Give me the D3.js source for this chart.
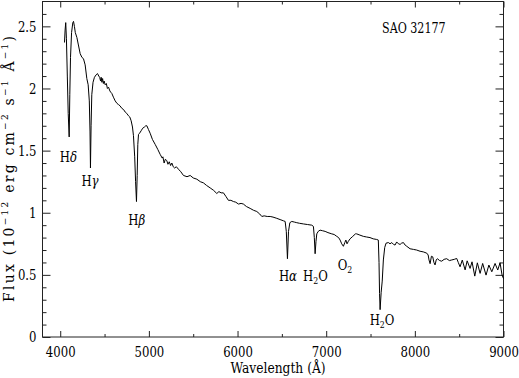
<!DOCTYPE html>
<html>
<head>
<meta charset="utf-8">
<script src="https://cdn.jsdelivr.net/npm/d3@7"></script>
<style>
  html, body { margin: 0; padding: 0; background: #fff; }
  svg { display: block; }
  svg text { font-family: "DejaVu Serif", "Liberation Serif", "Times New Roman", serif; fill: #000; }
</style>
</head>
<body>
<svg id="chart" width="519" height="378"></svg>
<script>
// ---- data ----
const wavelength = [4048,4055,4062,4070,4080,4090,4101,4108,4116,4128,4142,4150,4160,4170,4188,4205,4225,4245,4262,4281,4300,4315,4328,4336,4341,4348,4356,4370,4386,4405,4420,4435,4445,4455,4462,4470,4478,4487,4495,4507,4520,4532,4545,4560,4570,4582,4600,4620,4640,4658,4675,4695,4715,4733,4750,4770,4785,4800,4815,4826,4840,4850,4860,4868,4875,4883,4895,4913,4930,4950,4965,4977,4995,5014,5040,5071,5100,5127,5150,5158,5172,5185,5202,5215,5230,5245,5259,5275,5290,5310,5334,5360,5390,5430,5466,5500,5541,5580,5616,5650,5691,5730,5766,5790,5815,5841,5870,5897,5925,5954,5980,6010,6040,6066,6100,6142,6180,6217,6250,6274,6300,6335,6368,6400,6443,6480,6518,6537,6550,6563,6575,6590,6612,6640,6668,6700,6743,6790,6837,6856,6866,6875,6885,6894,6910,6931,6960,6988,7020,7063,7090,7119,7140,7157,7175,7194,7210,7222,7235,7250,7269,7300,7330,7344,7380,7419,7455,7494,7530,7569,7588,7596,7602,7608,7620,7632,7645,7660,7675,7702,7720,7740,7760,7777,7795,7815,7834,7850,7871,7890,7909,7946,7984,8020,8059,8095,8134,8150,8160,8172,8187,8202,8215,8228,8241,8254,8280,8303,8330,8359,8390,8416,8445,8472,8490,8510,8535,8567,8590,8623,8645,8676,8705,8736,8765,8803,8835,8868,8905,8935,8961,8984,9000];
const flux = [2.37,2.47,2.53,2.40,2.10,1.80,1.61,1.95,2.25,2.45,2.53,2.54,2.50,2.45,2.41,2.35,2.28,2.25,2.24,2.19,2.08,2.03,1.90,1.65,1.36,1.70,1.95,2.05,2.09,2.11,2.12,2.10,2.09,2.06,2.09,2.05,2.08,2.04,2.06,2.03,2.04,2.00,2.01,1.98,1.97,1.96,1.93,1.90,1.88,1.87,1.86,1.84,1.83,1.81,1.80,1.78,1.77,1.74,1.69,1.62,1.45,1.25,1.09,1.30,1.55,1.63,1.64,1.66,1.68,1.69,1.70,1.70,1.67,1.64,1.59,1.55,1.51,1.47,1.44,1.45,1.40,1.43,1.42,1.39,1.41,1.38,1.40,1.37,1.36,1.37,1.35,1.33,1.30,1.29,1.30,1.28,1.27,1.25,1.24,1.22,1.20,1.18,1.155,1.17,1.16,1.16,1.13,1.10,1.10,1.09,1.085,1.07,1.075,1.07,1.05,1.035,1.02,1.01,0.99,0.97,0.975,0.97,0.97,0.965,0.955,0.945,0.935,0.93,0.85,0.63,0.85,0.92,0.93,0.925,0.92,0.915,0.91,0.905,0.90,0.89,0.80,0.67,0.77,0.83,0.85,0.86,0.855,0.85,0.84,0.83,0.825,0.81,0.80,0.78,0.75,0.73,0.76,0.78,0.75,0.77,0.79,0.81,0.83,0.83,0.82,0.81,0.805,0.80,0.79,0.785,0.78,0.60,0.35,0.22,0.36,0.45,0.62,0.72,0.755,0.76,0.75,0.76,0.745,0.74,0.765,0.75,0.745,0.755,0.76,0.74,0.73,0.71,0.705,0.70,0.69,0.685,0.675,0.66,0.62,0.59,0.65,0.645,0.60,0.58,0.62,0.63,0.615,0.61,0.625,0.63,0.615,0.62,0.625,0.632,0.60,0.565,0.619,0.54,0.613,0.552,0.605,0.49,0.597,0.512,0.592,0.498,0.579,0.525,0.592,0.539,0.597,0.498,0.47];

const xMajorTicks = [4000,5000,6000,7000,8000,9000];
const xMinorTicks = [4500,5500,6500,7500,8500];
const yMajorTicks = [0,0.5,1,1.5,2,2.5];
const yMinorTicks = [0.1,0.2,0.3,0.4,0.6,0.7,0.8,0.9,1.1,1.2,1.3,1.4,1.6,1.7,1.8,1.9,2.1,2.2,2.3,2.4,2.6];
const yTickLabels = ["0","0.5","1","1.5","2","2.5"];

const lineNames = ["H|δ","H|γ","H|β","H|α","H2O","O2","H2O"];
const lineWl    = [4093,4336,4863,6569,6879,7212,7630];
const lineFlux  = [1.408,1.215,0.901,0.447,0.447,0.543,0.097];

const starName = "SAO 32177";
const starWl = 7630, starFlux = 2.45;

// ---- layout ----
const FONT = "'DejaVu Serif', 'Liberation Serif', 'Times New Roman', serif";
const SQ = 0.78;                 // horizontal squeeze to mimic the narrow plotting font
const svg = d3.select("#chart");
const L = 42.5, R = 503.5, T = 1.5, B = 337;
const x = d3.scaleLinear().domain([3800, 9000]).range([L, R]);
const y = d3.scaleLinear().domain([0, 2.7]).range([B, T]);
const axisColor = "#222";

function styleAxis(g) {
  g.select(".domain").remove();
  g.attr("font-family", FONT);
  g.selectAll(".tick line").attr("stroke", axisColor).attr("stroke-width", 1);
  g.selectAll("text").each(function () {
    const t = d3.select(this);
    const tx = +t.attr("x") || 0;
    t.attr("font-family", FONT).attr("font-size", 15).attr("fill", "#000")
     .attr("x", tx / SQ).attr("transform", `scale(${SQ},1)`);
  });
}
svg.append("g").attr("transform", `translate(0,${B})`)
  .call(d3.axisBottom(x).tickValues(xMajorTicks).tickSize(-6).tickPadding(9).tickFormat(d3.format("d")))
  .call(styleAxis);
svg.append("g").attr("transform", `translate(0,${B})`)
  .call(d3.axisBottom(x).tickValues(xMinorTicks).tickSize(-3).tickFormat(""))
  .call(styleAxis);
svg.append("g").attr("transform", `translate(0,${T})`)
  .call(d3.axisTop(x).tickValues(xMajorTicks).tickSize(-6).tickFormat(""))
  .call(styleAxis);
svg.append("g").attr("transform", `translate(0,${T})`)
  .call(d3.axisTop(x).tickValues(xMinorTicks).tickSize(-3).tickFormat(""))
  .call(styleAxis);
svg.append("g").attr("transform", `translate(${L},0)`)
  .call(d3.axisLeft(y).tickValues(yMajorTicks).tickSize(-8).tickPadding(6).tickFormat((d,i) => yTickLabels[i]))
  .call(styleAxis);
svg.append("g").attr("transform", `translate(${L},0)`)
  .call(d3.axisLeft(y).tickValues(yMinorTicks).tickSize(-4).tickFormat(""))
  .call(styleAxis);
svg.append("g").attr("transform", `translate(${R},0)`)
  .call(d3.axisRight(y).tickValues(yMajorTicks).tickSize(-8).tickFormat(""))
  .call(styleAxis);
svg.append("g").attr("transform", `translate(${R},0)`)
  .call(d3.axisRight(y).tickValues(yMinorTicks).tickSize(-4).tickFormat(""))
  .call(styleAxis);

// frame
svg.append("rect").attr("x", L).attr("y", T).attr("width", R - L).attr("height", B - T)
  .attr("fill", "none").attr("stroke", axisColor).attr("stroke-width", 1);

// spectrum
const pts = wavelength.map((w, i) => [w, flux[i]]);
svg.append("path").datum(pts)
  .attr("fill", "none").attr("stroke", "#000").attr("stroke-width", 1)
  .attr("d", d3.line().x(d => x(d[0])).y(d => y(d[1])));

// line labels (one text element each, squeezed horizontally)
lineNames.forEach((name, i) => {
  const t = svg.append("text")
    .attr("transform", `translate(${x(lineWl[i])},${y(lineFlux[i])}) scale(${SQ},1)`)
    .attr("text-anchor", "middle").attr("font-size", 15).attr("font-family", FONT);
  if (name.includes("|")) {
    const [a, b] = name.split("|");
    t.append("tspan").text(a);
    t.append("tspan").attr("font-style", "italic").text(b);
  } else {
    const parts = name.split("2");
    t.append("tspan").text(parts[0]);
    t.append("tspan").attr("font-size", 10).attr("dy", 3).text("2");
    if (parts[1]) t.append("tspan").attr("dy", -3).text(parts[1]);
  }
});

// star name
svg.append("text")
  .attr("transform", `translate(${x(starWl)},${y(starFlux)}) scale(${SQ * 0.95},1)`)
  .attr("font-size", 15).attr("font-family", FONT).text(starName);

// x title
svg.append("text")
  .attr("transform", `translate(278,373) scale(${SQ * 1.05},1)`)
  .attr("text-anchor", "middle").attr("font-size", 15).attr("font-family", FONT)
  .text("Wavelength (Å)");

// y title
const yt = svg.append("text").attr("transform", "translate(13.5,169) rotate(-90)")
  .attr("text-anchor", "middle").attr("font-size", 14).attr("font-family", FONT)
  .attr("textLength", 266).attr("lengthAdjust", "spacing");
const segs = [["Flux (10",0],["−12",1],[" erg cm",0],["−2",1],[" s",0],["−1",1],[" Å",0],["−1",1],[")",0]];
let up = false;
segs.forEach(([s, sup]) => {
  const ts = yt.append("tspan").text(s);
  if (sup) { ts.attr("font-size", 9).attr("dy", -6); up = true; }
  else if (up) { ts.attr("dy", 6); up = false; }
});
</script>
</body>
</html>
